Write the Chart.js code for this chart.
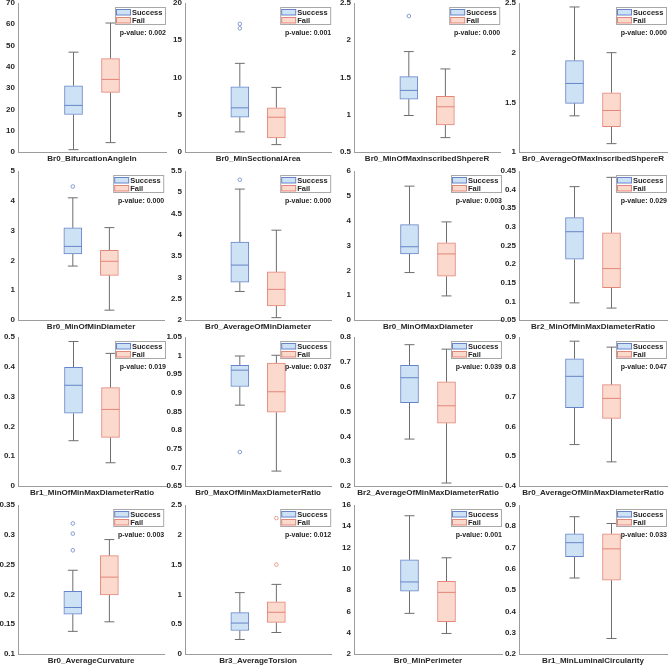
<!DOCTYPE html>
<html>
<head>
<meta charset="utf-8">
<title>Success vs Fail box plots</title>
<script src="https://cdn.jsdelivr.net/npm/chart.js@4.4.0/dist/chart.umd.min.js"></script>
<style>
  html, body { margin: 0; padding: 0; background: #fff; }
  #wrap { position: relative; width: 669px; height: 666px; overflow: hidden; }
  #wrap canvas { position: absolute; }
</style>
</head>
<body>
<div id="wrap"></div>
<script>
// data
var features = ['Br0_BifurcationAngleIn', 'Br0_MinSectionalArea', 'Br0_MinOfMaxInscribedShpereR', 'Br0_AverageOfMaxInscribedShpereR',
  'Br0_MinOfMinDiameter', 'Br0_AverageOfMinDiameter', 'Br0_MinOfMaxDiameter', 'Br2_MinOfMinMaxDiameterRatio',
  'Br1_MinOfMinMaxDiameterRatio', 'Br0_MaxOfMinMaxDiameterRatio', 'Br2_AverageOfMinMaxDiameterRatio', 'Br0_AverageOfMinMaxDiameterRatio',
  'Br0_AverageCurvature', 'Br3_AverageTorsion', 'Br0_MinPerimeter', 'Br1_MinLuminalCircularity'];
var pValues = ['0.002', '0.001', '0.000', '0.000', '0.000', '0.000', '0.003', '0.029',
  '0.019', '0.037', '0.039', '0.047', '0.003', '0.012', '0.001', '0.033'];
var groups = ['Success', 'Fail'];
var yTicks = [
  [0, 10, 20, 30, 40, 50, 60, 70],
  [0, 5, 10, 15, 20],
  [0.5, 1, 1.5, 2, 2.5],
  [1, 1.5, 2, 2.5],
  [0, 1, 2, 3, 4, 5],
  [2, 2.5, 3, 3.5, 4, 4.5, 5, 5.5],
  [0, 1, 2, 3, 4, 5, 6],
  [0.05, 0.1, 0.15, 0.2, 0.25, 0.3, 0.35, 0.4, 0.45],
  [0, 0.1, 0.2, 0.3, 0.4, 0.5],
  [0.65, 0.7, 0.75, 0.8, 0.85, 0.9, 0.95, 1, 1.05],
  [0.2, 0.3, 0.4, 0.5, 0.6, 0.7, 0.8],
  [0.4, 0.5, 0.6, 0.7, 0.8, 0.9],
  [0.1, 0.15, 0.2, 0.25, 0.3, 0.35],
  [0, 0.5, 1, 1.5, 2, 2.5],
  [2, 4, 6, 8, 10, 12, 14, 16],
  [0.2, 0.3, 0.4, 0.5, 0.6, 0.7, 0.8, 0.9]
];
// [lower whisker, q1, median, q3, upper whisker]
var successStats = [
  [1.1, 17.6, 21.9, 31.1, 46.9],
  [2.7, 4.67, 5.93, 8.76, 11.9],
  [0.99, 1.21, 1.327, 1.511, 1.848],
  [1.364, 1.49, 1.69, 1.92, 2.46],
  [1.81, 2.22, 2.47, 3.09, 4.10],
  [2.67, 2.89, 3.29, 3.83, 5.075],
  [1.91, 2.66, 2.95, 3.84, 5.39],
  [0.096, 0.213, 0.287, 0.325, 0.408],
  [0.152, 0.244, 0.338, 0.398, 0.485],
  [0.867, 0.917, 0.961, 0.974, 0.999],
  [0.389, 0.536, 0.636, 0.686, 0.769],
  [0.539, 0.663, 0.768, 0.827, 0.886],
  [0.138, 0.167, 0.178, 0.205, 0.2405],
  [0.243, 0.395, 0.519, 0.694, 1.03],
  [5.82, 7.91, 8.77, 10.85, 14.99],
  [0.557, 0.657, 0.723, 0.764, 0.845]
];
var failStats = [
  [4.4, 28.0, 34.1, 43.9, 60.6],
  [0.99, 1.89, 4.67, 5.93, 8.67],
  [0.693, 0.864, 1.107, 1.246, 1.615],
  [1.084, 1.256, 1.418, 1.596, 2.0],
  [0.33, 1.50, 1.97, 2.34, 3.10],
  [2.055, 2.33, 2.72, 3.13, 4.11],
  [0.97, 1.76, 2.66, 3.11, 3.95],
  [0.082, 0.137, 0.188, 0.284, 0.433],
  [0.078, 0.163, 0.257, 0.330, 0.445],
  [0.69, 0.848, 0.903, 0.980, 1.001],
  [0.212, 0.453, 0.523, 0.619, 0.751],
  [0.481, 0.627, 0.694, 0.74, 0.866],
  [0.154, 0.199, 0.229, 0.265, 0.292],
  [0.361, 0.53, 0.70, 0.875, 1.168],
  [3.93, 5.04, 7.79, 8.83, 11.04],
  [0.273, 0.547, 0.694, 0.764, 0.813]
];
var successOutliers = [[], [17.2, 16.6], [2.325], [], [4.48], [5.295], [], [], [], [0.741], [], [], [0.319, 0.302, 0.274], [], [], []];
var failOutliers = [[], [], [], [], [], [], [], [], [], [], [], [], [], [2.28, 1.50], [], []];

// layout
var colLeft = [18, 185, 354, 519];
var rowTop = [3, 171, 337, 505];
var plotW = 148, plotH = 149;
var yAxisW = 24, xAxisH = 14, padTop = 6, padRight = 3;

var blueFill = '#cde3f5', blueEdge = '#6784c8';
var redFill = '#fbd9cc', redEdge = '#e3867a';
var whiskerColor = '#6e6e6e', axisColor = '#9c9c9c', textColor = '#262626';
var fontFamily = "'Liberation Sans', Arial, Helvetica, sans-serif";
var xPos = [0.375, 0.625];
var boxHalf = 9 / plotW, capHalf = 5 / plotW;

function boxParts(x, s) {
  return {
    whisker: [{x: x, y: s[3]}, {x: x, y: s[4]}, {x: x, y: null}, {x: x, y: s[0]}, {x: x, y: s[1]}],
    caps: [{x: x - capHalf, y: s[4]}, {x: x + capHalf, y: s[4]}, {x: x, y: null},
           {x: x - capHalf, y: s[0]}, {x: x + capHalf, y: s[0]}],
    median: [{x: x - boxHalf, y: s[2]}, {x: x + boxHalf, y: s[2]}]
  };
}

function lineSet(data, color, order) {
  return {type: 'line', data: data, borderColor: color, borderWidth: 1, pointRadius: 0,
    fill: false, spanGaps: false, tension: 0, order: order};
}

function outlierSet(x, values, color) {
  return {type: 'line', data: values.map(function (v) { return {x: x, y: v}; }), showLine: false,
    pointRadius: 1.8, pointBorderWidth: 0.8, pointBorderColor: color,
    pointBackgroundColor: 'rgba(0,0,0,0)', order: 1};
}

var boxLegend = {
  id: 'boxLegend',
  afterDraw: function (chart) {
    var ctx = chart.ctx, a = chart.chartArea;
    var i = chart.options.plugins.boxLegend.panel;
    var w = 51, h = 18, left = a.right - w, top = a.top + 4;
    var fills = [blueFill, redFill], edges = [blueEdge, redEdge];
    ctx.save();
    ctx.fillStyle = '#fff';
    ctx.fillRect(left, top, w, h);
    ctx.strokeStyle = '#a8a8a8';
    ctx.lineWidth = 1;
    ctx.strokeRect(left + 0.5, top + 0.5, w - 1, h - 1);
    ctx.font = 'bold 7.5px ' + fontFamily;
    ctx.textBaseline = 'middle';
    ctx.textAlign = 'left';
    groups.forEach(function (g, k) {
      var sy = top + 2.5 + k * 8;
      ctx.fillStyle = fills[k];
      ctx.fillRect(left + 1.5, sy, 14, 5.5);
      ctx.strokeStyle = edges[k];
      ctx.strokeRect(left + 1.5, sy, 14, 5.5);
      ctx.fillStyle = textColor;
      ctx.fillText(g, left + 17, sy + 3);
    });
    ctx.font = 'bold 7px ' + fontFamily;
    ctx.textAlign = 'right';
    ctx.fillText('p-value: ' + pValues[i], a.right, a.top + 30);
    ctx.restore();
  }
};

function makeChart(i) {
  var r = Math.floor(i / 4), c = i % 4;
  var w = yAxisW + plotW + padRight, h = padTop + plotH + xAxisH;
  var canvas = document.createElement('canvas');
  canvas.width = w;
  canvas.height = h;
  canvas.style.left = (colLeft[c] - yAxisW) + 'px';
  canvas.style.top = (rowTop[r] - padTop) + 'px';
  canvas.style.width = w + 'px';
  canvas.style.height = h + 'px';
  document.getElementById('wrap').appendChild(canvas);

  var s = boxParts(xPos[0], successStats[i]);
  var f = boxParts(xPos[1], failStats[i]);
  var gap = {x: 0.5, y: null};
  var ticks = yTicks[i];

  new Chart(canvas, {
    type: 'bar',
    data: {
      datasets: [
        lineSet(s.median, blueEdge, 0),
        lineSet(f.median, redEdge, 0),
        outlierSet(xPos[0], successOutliers[i], blueEdge),
        outlierSet(xPos[1], failOutliers[i], redEdge),
        {
          type: 'bar',
          data: [{x: xPos[0], y: [successStats[i][1], successStats[i][3]]},
                 {x: xPos[1], y: [failStats[i][1], failStats[i][3]]}],
          backgroundColor: [blueFill, redFill],
          borderColor: [blueEdge, redEdge],
          borderWidth: 1,
          borderSkipped: false,
          barThickness: boxHalf * 2 * plotW,
          order: 2
        },
        lineSet(s.whisker.concat([gap], f.whisker), whiskerColor, 3),
        lineSet(s.caps.concat([gap], f.caps), whiskerColor, 3)
      ]
    },
    options: {
      responsive: false,
      animation: false,
      events: [],
      layout: {padding: {top: padTop, right: padRight, left: 0, bottom: 0}},
      plugins: {
        legend: {display: false},
        tooltip: {enabled: false},
        boxLegend: {panel: i}
      },
      scales: {
        x: {
          type: 'linear',
          min: 0,
          max: 1,
          offset: false,
          grid: {display: false, drawTicks: false},
          border: {display: true, color: axisColor, width: 1},
          afterBuildTicks: function (sc) { sc.ticks = [{value: 0.5}]; },
          afterFit: function (sc) {
            sc.height = xAxisH;
            sc.paddingLeft = 0; sc.paddingRight = 0;
          },
          ticks: {
            autoSkip: false,
            maxRotation: 0,
            padding: 1.5,
            color: textColor,
            font: {family: fontFamily, size: 8, weight: 'bold'},
            callback: function () { return features[i]; }
          }
        },
        y: {
          type: 'linear',
          min: ticks[0],
          max: ticks[ticks.length - 1],
          grid: {display: false, drawTicks: false},
          border: {display: true, color: axisColor, width: 1},
          afterBuildTicks: function (sc) {
            sc.ticks = ticks.map(function (v) { return {value: v}; });
          },
          afterFit: function (sc) {
            sc.width = yAxisW;
            sc.paddingTop = 0; sc.paddingBottom = 0;
          },
          ticks: {
            autoSkip: false,
            padding: 3,
            color: textColor,
            font: {family: fontFamily, size: 8, weight: 'bold'},
            callback: function (v) { return String(v); }
          }
        }
      }
    },
    plugins: [boxLegend]
  });
}

for (var i = 0; i < features.length; i++) {
  makeChart(i);
}
</script>
</body>
</html>
